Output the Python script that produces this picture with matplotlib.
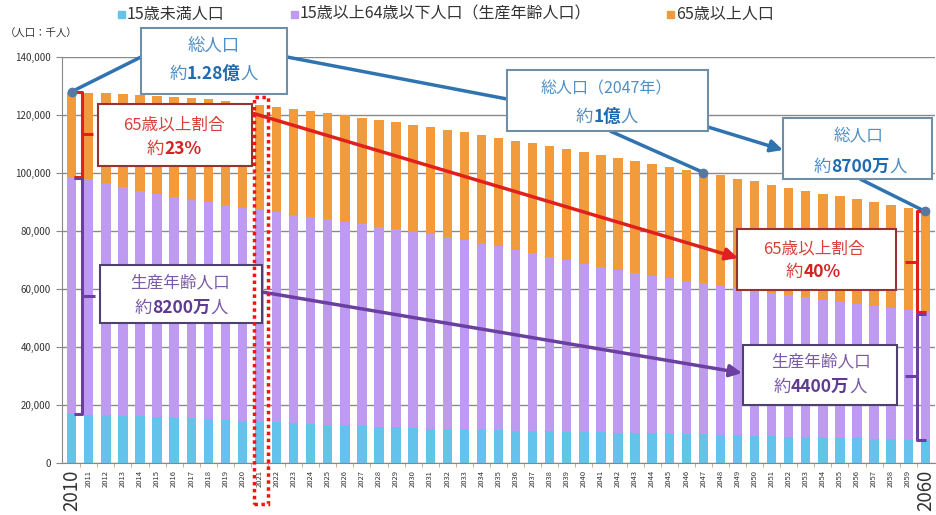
import matplotlib
matplotlib.use("Agg")
import matplotlib.pyplot as plt
from matplotlib.patches import Rectangle, FancyArrowPatch
from matplotlib.lines import Line2D
from matplotlib.transforms import IdentityTransform

plt.rcParams['font.family'] = ['Noto Sans CJK JP', 'DejaVu Sans']

# population by age group (thousands), 2010-2060
years = list(range(2010, 2061))
under15 = [16839, 16700, 16500, 16300, 16100, 15827, 15600, 15380, 15150, 14870,
           14568, 14280, 14000, 13740, 13480, 13240, 13000, 12760, 12520, 12280,
           12039, 11870, 11710, 11570, 11430, 11287, 11170, 11060, 10950, 10840,
           10732, 10610, 10490, 10370, 10240, 10116, 9980, 9830, 9690, 9540,
           9387, 9230, 9080, 8920, 8770, 8614, 8470, 8320, 8180, 8040,
           7912]
age15_64 = [81735, 81303, 80173, 78996, 77803, 76818, 76034, 75340, 74733, 74073,
            73408, 72880, 72400, 71900, 71400, 70845, 70250, 69650, 69030, 68390,
            67730, 67000, 66200, 65300, 64400, 63430, 62400, 61300, 60200, 59000,
            57866, 56900, 56000, 55100, 54300, 53531, 52800, 52100, 51400, 50700,
            50013, 49400, 48800, 48200, 47600, 47063, 46500, 45900, 45350, 44750,
            44183]
over65 = [29484, 29750, 30793, 31898, 32967, 33952, 34592, 35163, 35578, 35885,
          36124, 36290, 36400, 36470, 36520, 36573, 36610, 36640, 36700, 36770,
          36849, 36920, 37010, 37120, 37250, 37407, 37620, 37870, 38140, 38420,
          38678, 38760, 38782, 38730, 38660, 38564, 38420, 38240, 38050, 37860,
          37676, 37400, 37110, 36820, 36530, 36257, 35950, 35640, 35320, 34980,
          34642]
series_names = ['15歳未満人口', '15歳以上64歳以下人口（生産年齢人口）', '65歳以上人口']
colors = ['#64C3EB', '#BE9BF0', '#F29B3C']

W, H = 936, 515
fig = plt.figure(figsize=(W / 100, H / 100), dpi=100)
ax = fig.add_axes([62 / W, (H - 463) / H, 873 / W, 406 / H])

x = list(range(len(years)))
mid = [a + b for a, b in zip(under15, age15_64)]
total = [a + b for a, b in zip(mid, over65)]
ax.bar(x, under15, width=0.55, color=colors[0], zorder=2)
ax.bar(x, age15_64, width=0.55, bottom=under15, color=colors[1], zorder=2)
ax.bar(x, over65, width=0.55, bottom=mid, color=colors[2], zorder=2)

ax.set_xlim(-0.57, 50.57)
ax.set_ylim(0, 140000)
ax.set_yticks(range(0, 140001, 20000))
ax.set_yticklabels([f'{v:,}' for v in range(0, 140001, 20000)], fontsize=7, color='#333333')
ax.yaxis.grid(True, color='#8a8a8a', lw=1)
ax.set_axisbelow(True)
ax.tick_params(axis='y', length=4, color='#888888', pad=4)
ax.set_xticks(x)
ax.set_xticklabels([str(y) for y in years], rotation=90, fontsize=5.5, color='#333333')
for lab in (ax.get_xticklabels()[0], ax.get_xticklabels()[-1]):
    lab.set_fontsize(13.5)
ax.tick_params(axis='x', which='major', length=0, pad=5)
ax.set_xticks([i + 0.5 for i in x[:-1]], minor=True)
ax.tick_params(axis='x', which='minor', length=3, color='#C8A070')
for s in ('top', 'right'):
    ax.spines[s].set_visible(False)
for s in ('left', 'bottom'):
    ax.spines[s].set_color('#888888')

fig.text(5 / W, 1 - 34 / H, '（人口：千人）', fontsize=7.5, color='#333333', va='center')

# ---- annotation helpers (pixel coords, y measured from the top) ----
ID = IdentityTransform()
renderer = fig.canvas.get_renderer()

# legend drawn by hand so the items sit where the reference has them
for c, name, lx in zip(colors, series_names, (118, 291, 667)):
    fig.add_artist(Rectangle((lx, H - 18), 7, 7, transform=ID, color=c))
    fig.text(lx + 9, H - 14, name, transform=ID, fontsize=11.5, color='#333333', va='center')


def pt(i, v):
    px, py = ax.transData.transform((i, v))
    return px, H - py


def line(xs, ys, color, lw=2.5, z=4):
    fig.add_artist(Line2D(xs, [H - y for y in ys], transform=ID, color=color, lw=lw,
                          zorder=z, solid_capstyle='butt'))


def arrow(p0, p1, color):
    fig.add_artist(FancyArrowPatch((p0[0], H - p0[1]), (p1[0], H - p1[1]), transform=ID,
                                   arrowstyle='-|>', mutation_scale=18, color=color,
                                   lw=2.5, zorder=4, shrinkA=0, shrinkB=0))


def box(x0, y0, x1, y1, edge):
    fig.add_artist(Rectangle((x0, H - y1), x1 - x0, y1 - y0, transform=ID, facecolor='white',
                             edgecolor=edge, lw=1.5, zorder=5))


def rich(parts, cx, cy, size):
    texts = []
    for s, c, w in parts:
        texts.append(fig.text(0, 0, s, transform=ID, fontsize=size, color=c, weight=w,
                              va='center', zorder=6))
    widths = [t.get_window_extent(renderer).width for t in texts]
    pos = cx - sum(widths) / 2
    for t, wd in zip(texts, widths):
        t.set_position((pos, H - cy))
        pos += wd


blue, blue_d, blue_l = '#2F74B0', '#1F6BB0', '#4F8FC6'
red, red_d, red_t = '#E0201C', '#D42222', '#D9403A'
pur, pur_d, pur_t = '#6A3FA0', '#5E3A92', '#7B5AA6'

# total population line and markers
p2010, p2047, p2060 = pt(0, total[0]), pt(37, total[37]), pt(50, total[50])
line([p2010[0], 141], [p2010[1], 57], blue)
line([287, 507], [57, 99], blue)
line([610, p2047[0]], [131, p2047[1]], blue)
arrow((708, 127), (783, 150), blue)
line([860, p2060[0]], [179, p2060[1]], blue)
for p in (p2010, p2047, p2060):
    fig.add_artist(Line2D([p[0]], [H - p[1]], transform=ID, marker='o', ms=6,
                          color='#5878A0', zorder=6))

# brackets on 2010 and 2060 bars
bx = 82
t0, m0, b0 = pt(0, total[0])[1], pt(0, mid[0])[1], pt(0, under15[0])[1]
line([bx - 7, bx, bx, bx - 8], [t0, t0, m0, m0], red, lw=2.2, z=5)
line([bx, bx + 11], [(t0 + m0) / 2] * 2, red, lw=2.2, z=5)
line([bx - 8, bx, bx, bx - 8], [m0 + 1, m0 + 1, b0, b0], pur, lw=2.2, z=5)
line([bx, bx + 13], [(m0 + b0) / 2] * 2, pur, lw=2.2, z=5)

rx = 917
t1, m1, b1 = pt(50, total[50])[1], pt(50, mid[50])[1], pt(50, under15[50])[1]
line([rx + 9, rx, rx, rx + 9], [t1, t1, m1, m1], red, lw=2.2, z=5)
line([rx, rx - 12], [(t1 + m1) / 2] * 2, red, lw=2.2, z=5)
line([rx + 9, rx, rx, rx + 9], [m1 + 2, m1 + 2, b1, b1], pur, lw=2.2, z=5)
line([rx, rx - 12], [(m1 + b1) / 2] * 2, pur, lw=2.2, z=5)

# trend arrows
arrow((252, 113), (738, 258), red)
arrow((262, 292), (742, 373), pur)

# dotted frame around 2021
fig.add_artist(Rectangle((254, H - 504), 14, 407, transform=ID, fill=False,
                         edgecolor='#FF1010', lw=2.5, linestyle=(0, (1, 1)), zorder=7))

# boxes and texts
box(141, 28, 287, 94, '#6F8FA8')
rich([('総人口', blue_l, 'normal')], 214, 47, 12.5)
rich([('約', blue_l, 'normal'), ('1.28億', blue_d, 'bold'), ('人', blue_l, 'normal')], 214, 74, 12.5)

box(507, 70, 708, 131, '#6F8FA8')
rich([('総人口（2047年）', blue_l, 'normal')], 606, 89, 11.5)
rich([('約', blue_l, 'normal'), ('1億', blue_d, 'bold'), ('人', blue_l, 'normal')], 607, 117, 12.5)

box(783, 118, 932, 179, '#6F8FA8')
rich([('総人口', blue_l, 'normal')], 859, 137, 12)
rich([('約', blue_l, 'normal'), ('8700万', blue_d, 'bold'), ('人', blue_l, 'normal')], 860, 167, 12.5)

box(98, 104, 252, 166, '#9A3030')
rich([('65歳以上割合', red_t, 'normal')], 174, 125, 12)
rich([('約', red_t, 'normal'), ('23%', red_d, 'bold')], 174, 149, 12.5)

box(737, 229, 896, 290, '#9A3030')
rich([('65歳以上割合', red_t, 'normal')], 814, 249, 12)
rich([('約', red_t, 'normal'), ('40%', red_d, 'bold')], 813, 272, 12.5)

box(100, 265, 262, 323, '#4E4070')
rich([('生産年齢人口', pur_t, 'normal')], 180, 283, 12)
rich([('約', pur_t, 'normal'), ('8200万', pur_d, 'bold'), ('人', pur_t, 'normal')], 181, 308, 12.5)

box(743, 345, 897, 405, '#4E4070')
rich([('生産年齢人口', pur_t, 'normal')], 821, 362, 12)
rich([('約', pur_t, 'normal'), ('4400万', pur_d, 'bold'), ('人', pur_t, 'normal')], 820, 387, 12.5)

fig.savefig('out.png', dpi=100)
